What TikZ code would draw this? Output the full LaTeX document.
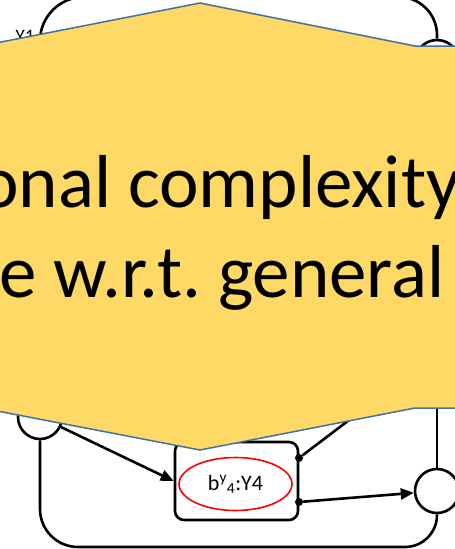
\documentclass[tikz,border=0pt]{standalone}
\usepackage{fontspec}
\setmainfont{Carlito}
\usepackage{tikz}
\usetikzlibrary{shapes.geometric, arrows.meta, positioning, calc}
\frenchspacing
\definecolor{mygold}{RGB}{255,217,102}
\definecolor{myblue}{RGB}{65,113,156}
\definecolor{myred}{RGB}{255,0,0}
\tikzset{
  varnode/.style={circle, draw=black, fill=white, minimum size=44pt,
    inner sep=0pt, line width=2.6pt},
  factorbox/.style={rectangle, draw=black, fill=white, minimum width=123pt,
    minimum height=78pt, rounded corners=9pt, line width=2.6pt},
  beliefnode/.style={ellipse, draw=myred, minimum width=113pt,
    minimum height=53pt, inner sep=0pt, line width=1.6pt, font=\fontsize{22}{26}\selectfont},
  port/.style={circle, fill=black, inner sep=0pt, minimum size=8pt},
  arrow/.style={-{Triangle[length=13pt,width=11pt]}, line width=2.6pt},
  line/.style={line width=2.6pt},
  banner/.style={fill=mygold, draw=myblue, line width=1.5pt},
  bigtext/.style={anchor=base west, inner sep=0pt, font=\fontsize{75}{90}\selectfont}
}

\begin{document}
\begin{tikzpicture}[x=1pt, y=-1pt]
  \useasboundingbox (0,0) rectangle (455,549);
  \clip (0,0) rectangle (455,549);
  \fill[white] (0,0) rectangle (455,549);

  % factor graph
  \node[varnode] (yA) at (40,70) {};
  \node[font=\fontsize{19}{22}\selectfont] (lblY1) at (25,36) {Y1};
  \node[varnode] (yT) at (437,62) {};
  \node[varnode] (yL) at (40,417) {};
  \node[varnode] (yR) at (437,491) {};
  \node[factorbox] (f4) at (236.5,481) {};
  \node[beliefnode] (b4) at (235.5,484) {b\textsuperscript{y}\textsubscript{4}:Y4};
  \node[port] (p1) at (299,458) {};
  \node[port] (p2) at (299,502) {};
  \coordinate (up1) at (365,408);
  \coordinate (up2) at (437,400);

  \draw[line] (yA.north) [rounded corners=44pt] -- (40,-3)
    [rounded corners=38pt] -- (437,-3) -- (yT.north);
  \draw[line] (yL.south) [rounded corners=38pt] -- (40,547)
    [rounded corners=32pt] -- (437,547) -- (yR.south);
  \draw[arrow] (yL) -- (f4.west);
  \draw[arrow] (p2) -- (yR);
  \draw[line] (p1) -- (up1);
  \draw[line] (yR) -- (up2);

  % banner
  \draw[banner] (-60,54) -- (200,3) -- (415,46) -- (520,46) -- (520,408)
    -- (415,408) -- (200,450) -- (-60,400) -- cycle;
  \node[bigtext] (line1) at (-21,207) {onal complexity};
  \node[bigtext] (line2) at (-1,297) {e w.r.t. general B};
\end{tikzpicture}
\end{document}
